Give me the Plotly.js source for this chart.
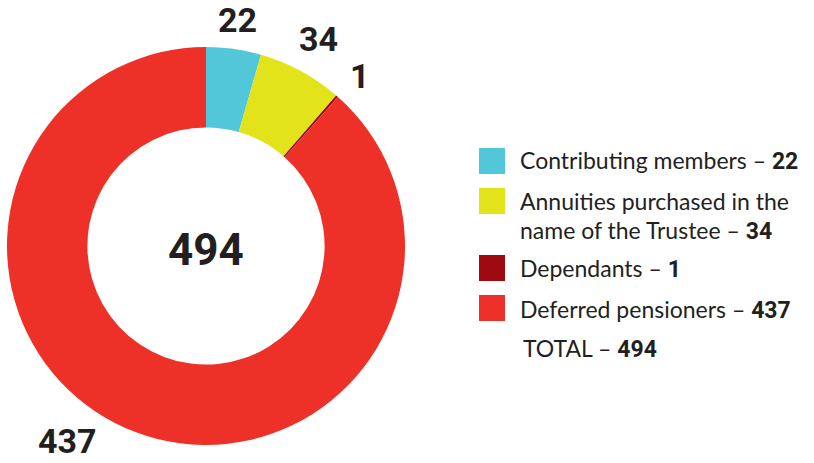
<!DOCTYPE html>
<html>
<head>
<meta charset="utf-8">
<script src="https://cdn.plot.ly/plotly-3.0.1.min.js"></script>
<style>html,body{margin:0;padding:0;background:#fff;}#chart{width:814px;height:463px;}</style>
</head>
<body>
<div id="chart"></div>
<script>
const categories = ["Contributing members", "Annuities purchased in the name of the Trustee", "Dependants", "Deferred pensioners"];
const values = [22, 34, 1, 437];
const colors = ["#52C7D9", "#E2E31B", "#9E0A10", "#EE3128"];
const total = values.reduce((a, b) => a + b, 0);

const W = 814, H = 463;
const px = x => x / W;
const py = y => 1 - y / H;
const TXT = "#231F20";
const NUMFONT = "Roboto, 'DejaVu Sans', sans-serif";
const LBLFONT = "Lato, 'Open Sans', sans-serif";
const num = v => "<span style='font-family:Roboto;font-weight:bold'>" + v + "</span>";

const trace = {
  type: "pie",
  labels: categories,
  values: values,
  hole: 0.596,
  sort: false,
  direction: "clockwise",
  rotation: 0,
  textinfo: "none",
  hoverinfo: "label+value",
  marker: { colors: colors, line: { width: 0 } },
  domain: { x: [px(7), px(405)], y: [py(445), py(47)] },
  showlegend: false
};

const annotations = [];
// value labels around the ring
const valuePos = [[237, 20], [318, 39], [360, 76], [67, 441]];
values.forEach((v, i) => {
  annotations.push({
    xref: "paper", yref: "paper", x: px(valuePos[i][0]), y: py(valuePos[i][1]),
    xanchor: "center", yanchor: "middle", showarrow: false,
    text: "<b>" + v + "</b>",
    font: { family: NUMFONT, size: 34, color: TXT }
  });
});
// centre total
annotations.push({
  xref: "paper", yref: "paper", x: px(206), y: py(250),
  xanchor: "center", yanchor: "middle", showarrow: false,
  text: "<b>" + total + "</b>",
  font: { family: NUMFONT, size: 44, color: TXT }
});

// legend
const legendLines = [
  [categories[0] + " – " + num(values[0])],
  ["Annuities purchased in the", "name of the Trustee – " + num(values[1])],
  [categories[2] + " – " + num(values[2])],
  [categories[3] + " – " + num(values[3])]
];
const boxTop = [148, 188, 255, 295];
const lineY = [[160], [201, 231], [268], [309]];
const shapes = [];
legendLines.forEach((lines, i) => {
  shapes.push({
    type: "rect", xref: "paper", yref: "paper",
    x0: px(479), x1: px(505), y0: py(boxTop[i] + 26), y1: py(boxTop[i]),
    fillcolor: colors[i], line: { width: 0 }
  });
  lines.forEach((t, j) => {
    annotations.push({
      xref: "paper", yref: "paper", x: px(518), y: py(lineY[i][j]),
      xanchor: "left", yanchor: "middle", showarrow: false,
      text: t, font: { family: LBLFONT, size: 23, color: TXT }
    });
  });
});
annotations.push({
  xref: "paper", yref: "paper", x: px(521), y: py(348),
  xanchor: "left", yanchor: "middle", showarrow: false,
  text: "TOTAL – " + num(total), font: { family: LBLFONT, size: 23, color: TXT }
});

const layout = {
  width: W, height: H,
  margin: { l: 0, r: 0, t: 0, b: 0 },
  paper_bgcolor: "#fff", plot_bgcolor: "#fff",
  showlegend: false,
  annotations: annotations,
  shapes: shapes
};
Plotly.newPlot("chart", [trace], layout, { displayModeBar: false, staticPlot: true });
</script>
</body>
</html>
